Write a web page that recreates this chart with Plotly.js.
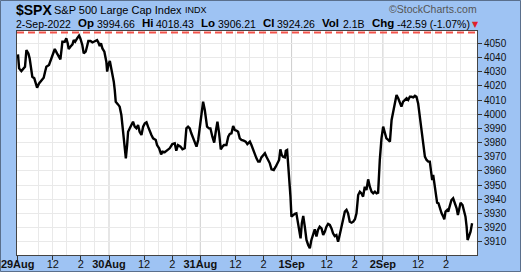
<!DOCTYPE html>
<html><head><meta charset="utf-8">
<script src="https://cdn.plot.ly/plotly-3.0.1.min.js"></script>
<style>html,body{margin:0;padding:0;background:#9ec3f3;}#chart{width:521px;height:272px;}</style>
</head><body><div id="chart"></div>
<script>
// Trading hours elapsed since the 29-Aug-2022 open (6.5 h per session) and S&P 500 price
const hours = [0.02,0.10,0.26,0.43,0.52,0.62,0.76,0.85,0.97,1.04,1.18,1.28,1.38,1.52,1.69,1.85,1.95,2.04,2.23,2.39,2.51,2.64,2.80,2.95,3.04,3.13,3.18,3.35,3.46,3.56,3.63,3.75,3.90,3.99,4.09,4.23,4.37,4.46,4.60,4.70,4.84,4.93,5.03,5.18,5.32,5.42,5.51,5.65,5.74,5.84,5.93,6.03,6.17,6.31,6.37,6.46,6.56,6.65,6.74,6.84,6.91,6.98,7.14,7.26,7.38,7.50,7.58,7.70,7.79,7.86,7.98,8.10,8.21,8.33,8.45,8.57,8.68,8.81,8.93,9.05,9.17,9.28,9.40,9.52,9.64,9.83,9.92,10.07,10.21,10.31,10.47,10.59,10.70,
10.82,11.01,11.18,11.29,11.41,11.59,11.73,11.89,12.01,12.13,12.25,12.36,12.53,12.73,12.85,13.01,13.20,13.32,13.48,13.62,13.72,13.86,13.99,14.10,14.22,14.34,14.46,14.58,14.69,14.86,14.99,15.10,15.22,15.34,15.46,15.57,15.69,15.81,15.93,16.09,16.23,16.35,16.53,16.64,16.76,16.88,17.00,17.12,17.23,17.35,17.47,17.60,17.71,17.83,17.95,18.07,18.23,18.37,18.47,18.61,18.70,18.80,18.89,19.02,19.09,19.18,19.25,19.33,19.42,19.49,19.61,19.73,19.84,19.91,20.01,20.14,20.23,20.33,20.44,20.56,20.68,20.80,20.91,21.03,21.15,21.27,21.38,
21.50,21.63,21.75,21.87,21.98,22.10,22.22,22.34,22.45,22.57,22.69,22.81,22.94,23.05,23.17,23.29,23.41,23.52,23.64,23.77,23.89,24.01,24.12,24.24,24.36,24.48,24.59,24.71,24.83,24.95,25.07,25.19,25.31,25.43,25.55,25.66,25.78,25.90,26.02,26.13,26.25,26.38,26.50,26.62,26.78,26.97,27.09,27.20,27.32,27.44,27.56,27.69,27.80,27.92,28.04,28.16,28.28,28.39,28.51,28.63,28.76,28.87,28.99,29.11,29.23,29.34,29.41,29.51,29.58,29.65,29.77,29.86,29.96,30.06,30.18,30.30,30.37,30.46,30.58,30.65,30.77,30.88,31.00,31.12,31.25,31.34,31.44,31.53,31.67,31.77,31.88,31.96,32.03,32.12,32.24,32.35];
const price = [4042.2,4032.3,4030.4,4032.3,4033.5,4045.3,4042.9,4039.4,4032.3,4026.4,4025.3,4021.7,4018.7,4021.7,4024.1,4025.7,4030.0,4033.5,4034.7,4039.4,4043.6,4046.0,4042.9,4040.6,4038.7,4046.4,4051.1,4051.1,4053.5,4050.0,4046.0,4047.6,4049.3,4052.3,4051.1,4053.5,4055.4,4053.5,4048.8,4042.9,4044.1,4047.6,4051.6,4051.6,4050.7,4051.1,4051.8,4052.3,4050.7,4048.1,4050.0,4046.4,4044.1,4037.0,4030.0,4035.1,4037.5,4033.5,4027.6,4022.9,4017.0,4008.8,4006.9,4005.3,3999.4,3987.6,3980.6,3968.8,3978.2,3987.6,3990.0,3992.3,3994.7,3991.2,3990.0,3992.3,3987.6,3985.3,3991.2,3993.5,3994.2,3991.2,3987.6,3985.3,3982.9,3981.8,3978.2,3975.9,3971.6,3973.5,3973.1,3974.0,3975.4,
3975.9,3978.9,3979.4,3974.2,3978.2,3977.1,3975.2,3975.9,3990.0,3991.2,3990.0,3986.5,3981.8,3977.1,3981.8,3993.5,4008.8,4002.9,3991.2,3990.0,3990.0,3984.1,3979.9,3987.6,3994.7,3986.5,3975.2,3977.1,3978.2,3978.2,3984.1,3986.0,3986.5,3991.6,3988.8,3988.4,3987.6,3982.9,3981.8,3981.3,3980.6,3978.9,3980.6,3978.2,3974.7,3972.4,3968.8,3966.5,3966.5,3969.5,3971.2,3972.4,3970.0,3968.1,3965.3,3961.1,3960.6,3962.9,3965.3,3967.7,3975.2,3971.2,3970.0,3969.5,3974.2,3974.7,3965.3,3955.9,3941.8,3927.7,3928.8,3929.6,3930.0,3925.3,3920.6,3912.4,3923.0,3928.1,3920.6,3911.2,3907.7,3905.3,3911.2,3914.7,3918.7,3913.6,3918.3,
3920.6,3919.4,3914.7,3917.1,3920.6,3922.5,3921.8,3919.4,3915.9,3914.0,3914.7,3910.0,3915.4,3920.6,3924.1,3931.2,3932.4,3930.0,3924.1,3923.4,3924.1,3925.8,3930.0,3942.9,3945.3,3944.1,3941.8,3948.8,3946.5,3954.0,3948.8,3945.3,3944.1,3945.3,3944.1,3944.6,3967.7,3982.9,3991.2,3986.5,3982.9,3981.8,3980.6,3995.9,4005.3,4013.5,4011.2,4008.1,4005.3,4008.8,4010.0,4011.2,4010.0,4012.3,4012.3,4011.9,4013.0,4012.3,4007.6,3998.2,3988.8,3978.2,3970.0,3967.7,3966.5,3966.5,3960.6,3953.5,3957.1,3952.4,3944.1,3937.5,3937.1,3933.5,3930.0,3927.7,3925.8,3931.2,3932.4,3931.2,3935.9,3939.4,3940.6,3937.1,3933.5,3928.8,3933.5,3937.5,3935.9,3932.4,3927.7,3920.6,3911.2,3913.6,3917.1,3923.0];

const dayLabels = ['29Aug','30Aug','31Aug','1Sep','2Sep'];
const sessionHours = 6.5;
const intradayTickHours = [2.5, 4.5];          // 12:00 and 14:00 after 9:30 open
const intradayTickText = ['12', '2'];
const hourlyGridHours = [1.5, 2.5, 3.5, 4.5, 5.5]; // 11:00 .. 15:00
const prevClose = 4057.66;

const header = {
  symbol: '$SPX', name: 'S&P 500 Large Cap Index', exch: 'INDX',
  date: '2-Sep-2022', op: '3994.66', hi: '4018.43', lo: '3906.21', cl: '3924.26',
  vol: '2.1B', chg: '-42.59 (-1.07%)', credit: '\u00A9StockCharts.com'
};

const tickvals = [], ticktext = [], gridvals = [];
dayLabels.forEach((d, i) => {
  tickvals.push(i * sessionHours); ticktext.push('<b>' + d + '</b>');
  intradayTickHours.forEach((h, j) => { tickvals.push(i * sessionHours + h); ticktext.push(intradayTickText[j]); });
  hourlyGridHours.forEach(h => gridvals.push(i * sessionHours + h));
});

const W = 521, H = 272, L = 17, R = 44, T = 31, B = 17;
const pw = W - L - R, ph = H - T - B;
const px = x => (x - L) / pw;
const py = y => (H - B - y) / ph;
const FONT = 'Liberation Sans, Arial, sans-serif';

function ann(text, x, y, size, opts) {
  return Object.assign({
    text: text, xref: 'paper', yref: 'paper', x: px(x), y: py(y),
    xanchor: 'left', yanchor: 'middle', showarrow: false, borderpad: 0,
    font: {family: FONT, size: size, color: '#000'}
  }, opts || {});
}

const L2 = 23, N2 = 23.5;
const annotations = [
  ann('<b>' + header.symbol + '</b>', 15, 9.5, 14),
  ann(header.name, 53, 10, 11),
  ann(header.exch, 184, 10.5, 9),
  ann(header.credit, 478, 9, 10.5, {xanchor: 'right', font: {family: FONT, size: 10.5, color: '#555'}}),
  ann(header.date, 15, N2, 10.5),
  ann('<b>Op</b>', 77, L2, 11.5), ann(header.op, 96, N2, 10.5),
  ann('<b>Hi</b>', 141, L2, 11.5), ann(header.hi, 155, N2, 10.5),
  ann('<b>Lo</b>', 200, L2, 11.5), ann(header.lo, 217, N2, 10.5),
  ann('<b>Cl</b>', 262, L2, 11.5), ann(header.cl, 276, N2, 10.5),
  ann('<b>Vol</b>', 321, L2, 11.5), ann(header.vol, 342, N2, 10.5),
  ann('<b>Chg</b>', 371, L2, 11.5), ann(header.chg, 396, N2, 10.5),
  ann('\u25BC', 471, 24, 8, {font: {family: 'DejaVu Sans', size: 8, color: '#e0202a'}})
];

const shapes = [];
for (let i = 1; i < dayLabels.length; i++) {
  shapes.push({type: 'line', xref: 'x', yref: 'paper', x0: i * sessionHours, x1: i * sessionHours, y0: 0, y1: 1,
    line: {color: '#cdcdcd', width: 1}, layer: 'below'});
}
shapes.push({type: 'line', xref: 'paper', yref: 'y', x0: 0, x1: 1, y0: prevClose, y1: prevClose,
  line: {color: '#f2524a', width: 2, dash: '7px,4px'}});
shapes.push({type: 'rect', xref: 'paper', yref: 'paper', x0: px(0.5), x1: px(520.5), y0: py(271.5), y1: py(0.5),
  line: {color: '#5a6f8c', width: 1}, layer: 'below'});

const trace = {x: hours, y: price, type: 'scatter', mode: 'lines',
  line: {color: '#000', width: 2.4, shape: 'linear'}, hoverinfo: 'skip'};

const layout = {
  width: W, height: H, margin: {l: L, r: R, t: T, b: B, pad: 0},
  paper_bgcolor: '#9ec3f3', plot_bgcolor: '#ffffff', showlegend: false,
  font: {family: FONT, color: '#111'},
  xaxis: {range: [-0.05, 32.7], tickmode: 'array', tickvals: tickvals, ticktext: ticktext,
    ticks: 'outside', ticklen: 4, tickcolor: '#333', tickfont: {family: FONT, size: 11, color: '#111'},
    ticklabelstandoff: -5,
    showgrid: false, zeroline: false, showline: true, mirror: true, linecolor: '#444', linewidth: 1,
    minor: {tickmode: 'array', tickvals: gridvals, showgrid: true, gridcolor: '#e9e9e9', gridwidth: 1, ticks: ''},
    fixedrange: true},
  yaxis: {range: [3900.6, 4058.7], side: 'right', tickmode: 'linear', tick0: 3910, dtick: 10,
    ticks: 'outside', ticklen: 4, tickcolor: '#333', tickfont: {family: FONT, size: 10, color: '#111'},
    showgrid: true, gridcolor: '#e9e9e9', gridwidth: 1, zeroline: false,
    showline: true, mirror: true, linecolor: '#444', linewidth: 1, fixedrange: true},
  annotations: annotations, shapes: shapes
};

Plotly.newPlot('chart', [trace], layout, {staticPlot: true, displayModeBar: false});
</script></body></html>
